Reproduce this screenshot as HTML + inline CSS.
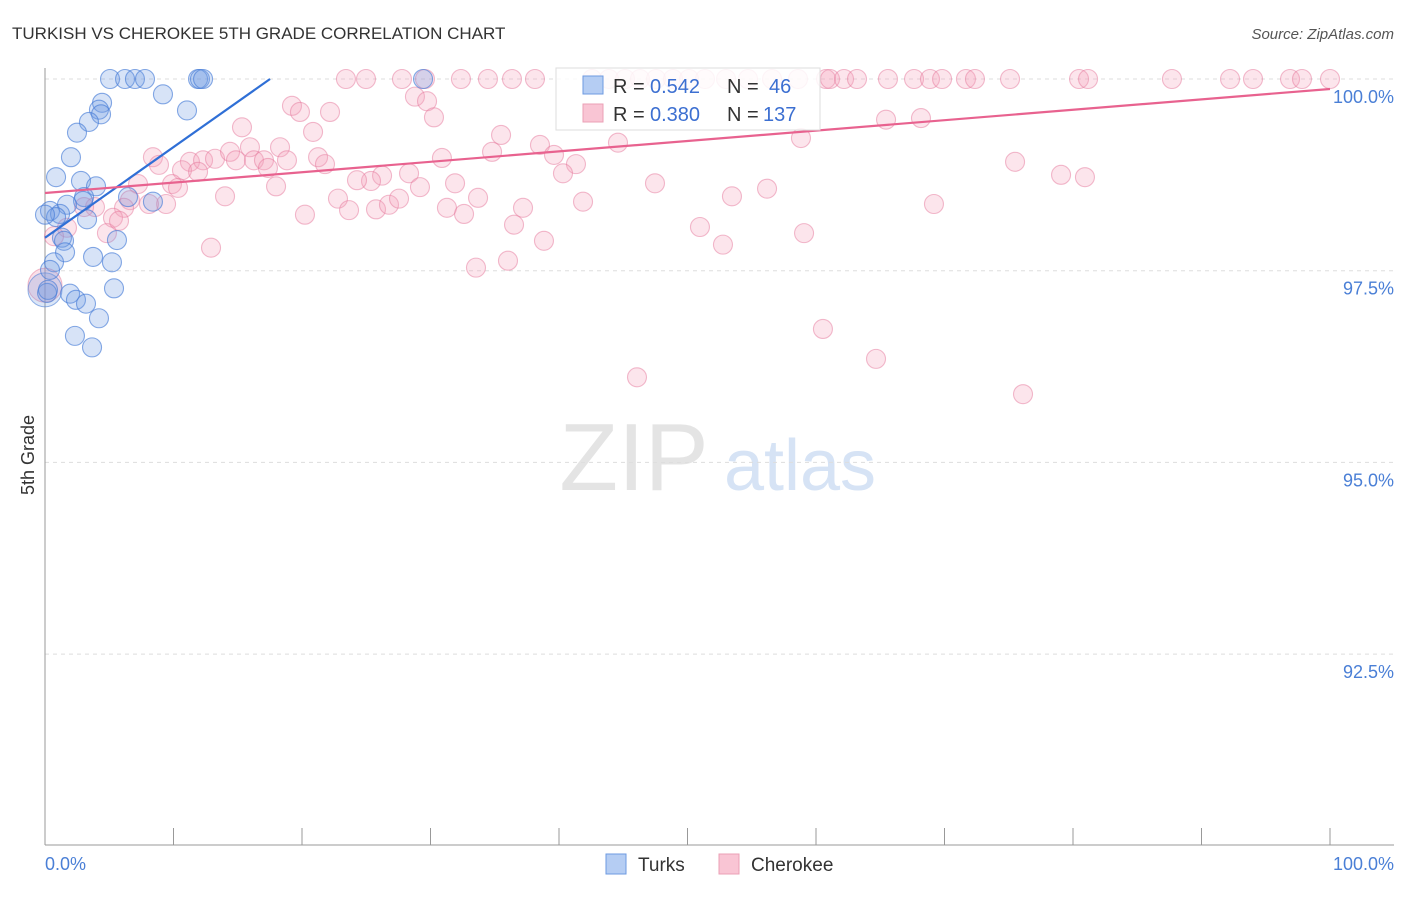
<!DOCTYPE html>
<html><head><meta charset="utf-8"><style>
body{margin:0;background:#fff;font-family:"Liberation Sans",sans-serif}
svg text{font-family:"Liberation Sans",sans-serif}
</style></head><body>
<svg id="c" width="1406" height="892">
<text x="12" y="39" font-size="17" fill="#333">TURKISH VS CHEROKEE 5TH GRADE CORRELATION CHART</text>
<text x="1394" y="39" font-size="15" fill="#555" font-style="italic" text-anchor="end">Source: ZipAtlas.com</text>
<text x="634" y="490" font-size="96" fill="#e4e4e4" font-family="Liberation Serif" text-anchor="middle">ZIP</text>
<text x="800" y="490" font-size="72" fill="#d6e3f5" text-anchor="middle">atlas</text>
<g id="grid"></g>
<line x1="45" y1="68" x2="45" y2="845" stroke="#999"/>
<line x1="45" y1="845" x2="1394" y2="845" stroke="#999"/>
<text x="34" y="455" font-size="18" fill="#333" transform="rotate(-90 34 455)" text-anchor="middle">5th Grade</text>
<text x="45" y="870" font-size="18" fill="#4a7fd6">0.0%</text>
<text x="1394" y="870" font-size="18" fill="#4a7fd6" text-anchor="end">100.0%</text>
<g id="pts"></g>
<g id="lines"></g>
<g>
<rect x="556" y="68" width="264" height="62" fill="#fff" fill-opacity="0.85" stroke="#ddd"/>
<rect x="583" y="76" width="20" height="18" fill="#b5cdf3" stroke="#6d9ae0"/>
<text y="93" font-size="20" fill="#333"><tspan x="613">R =</tspan><tspan x="650" fill="#3c6fd1">0.542</tspan><tspan x="727">N =</tspan><tspan x="769" fill="#3c6fd1">46</tspan></text>
<rect x="583" y="104" width="20" height="18" fill="#f9c5d4" stroke="#eba0b6"/>
<text y="121" font-size="20" fill="#333"><tspan x="613">R =</tspan><tspan x="650" fill="#3c6fd1">0.380</tspan><tspan x="727">N =</tspan><tspan x="763" fill="#3c6fd1">137</tspan></text>
</g>
<rect x="606" y="854" width="20" height="20" fill="#b5cdf3" stroke="#6d9ae0"/>
<text x="638" y="871" font-size="19" fill="#333">Turks</text>
<rect x="719" y="854" width="20" height="20" fill="#f9c5d4" stroke="#eba0b6"/>
<text x="751" y="871" font-size="19" fill="#333">Cherokee</text>
</svg>
<script>
const yTicks=[100,97.5,95,92.5];
const yTickLabels=["100.0%","97.5%","95.0%","92.5%"];
const xTicks=[10,20,30,40,50,60,70,80,90,100];
const turksX=[5.06,6.23,7.00,7.78,11.91,12.06,12.30,29.42,9.18,11.05,4.44,4.20,4.36,3.42,2.49,2.02,0.86,2.80,3.97,3.04,2.96,6.46,8.40,1.71,0.39,1.17,0.86,3.27,1.32,1.48,5.60,1.56,3.74,5.21,0.70,0.39,5.37,0.16,1.95,2.41,3.19,4.20,2.33,3.66,0.23,0];
const turksY=[100,100,100,100,100,100,100,100,99.80,99.59,99.69,99.60,99.54,99.44,99.30,98.98,98.72,98.67,98.60,98.46,98.41,98.46,98.40,98.36,98.28,98.24,98.20,98.17,97.93,97.89,97.90,97.74,97.68,97.61,97.61,97.51,97.27,97.21,97.20,97.12,97.07,96.88,96.65,96.50,97.25,98.23];
const cherX=[23.42,24.98,27.78,29.57,32.37,34.47,36.34,38.13,42.57,43.89,45.14,46.30,47.55,48.87,50.12,51.36,53.00,54.71,56.58,58.60,60.78,61.09,62.18,63.19,65.60,67.63,68.87,69.81,71.67,72.37,75.10,80.47,81.17,87.70,92.22,94.01,96.89,97.82,100,
19.22,19.84,22.18,28.79,29.73,30.27,15.33,20.86,35.49,44.59,58.83,65.45,68.17,15.95,18.29,8.40,11.28,12.30,13.23,14.40,14.86,16.26,17.04,18.83,21.25,21.79,30.89,34.79,38.52,39.61,41.32,40.31,28.33,26.23,25.37,24.28,8.87,10.66,11.91,17.35,75.49,79.07,80.93,7.24,9.88,10.35,17.98,29.18,31.91,47.47,56.19,14.01,22.80,23.66,25.76,26.77,27.55,31.28,32.61,33.70,37.20,36.50,41.87,53.46,69.18,6.61,9.42,8.09,3.89,3.04,6.15,5.29,1.71,0.70,4.82,5.76,20.23,50.97,59.07,52.76,38.83,12.92,36.03,33.54,60.54,64.67,46.07,76.11];
const cherY=[100,100,100,100,100,100,100,100,100,100,100,100,100,100,100,100,100,100,100,100,100,100,100,100,100,100,100,100,100,100,100,100,100,100,100,100,100,100,100,
99.65,99.57,99.57,99.77,99.71,99.50,99.37,99.31,99.27,99.17,99.23,99.47,99.49,99.11,99.11,98.98,98.92,98.94,98.96,99.05,98.94,98.94,98.94,98.94,98.98,98.89,98.97,99.05,99.14,99.01,98.89,98.77,98.77,98.74,98.67,98.68,98.88,98.81,98.79,98.84,98.92,98.75,98.72,98.63,98.63,98.58,98.60,98.59,98.64,98.64,98.57,98.47,98.44,98.29,98.30,98.36,98.44,98.32,98.24,98.45,98.32,98.10,98.40,98.47,98.37,98.42,98.37,98.37,98.33,98.33,98.32,98.19,98.06,97.95,97.99,98.15,98.23,98.07,97.99,97.84,97.89,97.80,97.63,97.54,96.74,96.35,96.11,95.89];
const bigX=[0,0];
const bigY=[97.31,97.25];
const turksTrend=[97.93,0.1182];
const cherTrend=[98.513,0.01357];
const NS="http://www.w3.org/2000/svg";
const sx=v=>45+v*12.85;
const sy=v=>79+(100-v)*76.68;
function mk(t,a,p){const e=document.createElementNS(NS,t);for(const k in a)e.setAttribute(k,a[k]);p.appendChild(e);return e;}
const grid=document.getElementById('grid');
yTicks.forEach((v,i)=>{
 const l=mk('line',{x1:45,x2:1394,y1:sy(v),y2:sy(v),stroke:'#ddd','stroke-dasharray':'4 4'},grid);
 
 
 const t=mk('text',{x:1394,y:sy(v)+24,'font-size':18,fill:'#4a7fd6','text-anchor':'end'},grid);
 t.textContent=yTickLabels[i];
 
 
});
xTicks.forEach(v=>{
 const l=mk('line',{x1:sx(v),x2:sx(v),y1:828,y2:845,stroke:'#999'},grid);
 
 
});
const pts=document.getElementById('pts');
bigX.forEach((x,i)=>{
 const c=mk('circle',{cx:sx(x),cy:sy(bigY[i]),r:17,fill:i?'rgba(110,155,225,0.25)':'rgba(240,150,180,0.3)',stroke:i?'rgba(80,130,215,0.6)':'rgba(225,120,150,0.5)'},pts);
 
 
});
cherX.forEach((x,i)=>{
 const c=mk('circle',{cx:sx(x),cy:sy(cherY[i]),r:9.5,fill:'rgba(245,160,185,0.28)',stroke:'rgba(230,120,155,0.5)','stroke-width':1.1},pts);
 
 
});
turksX.forEach((x,i)=>{
 const c=mk('circle',{cx:sx(x),cy:sy(turksY[i]),r:9.5,fill:'rgba(110,155,225,0.28)',stroke:'rgba(70,125,215,0.65)','stroke-width':1.1},pts);
 
 
});
const lines=document.getElementById('lines');
const tEnd=(100-turksTrend[0])/turksTrend[1];
const bl=mk('line',{x1:sx(0),y1:sy(turksTrend[0]),x2:sx(tEnd),y2:sy(100),stroke:'#2f6fd6','stroke-width':2.2},lines);


const pl=mk('line',{x1:sx(0),y1:sy(cherTrend[0]),x2:sx(100),y2:sy(cherTrend[0]+100*cherTrend[1]),stroke:'#e8628f','stroke-width':2.2},lines);


</script>
</body></html>
